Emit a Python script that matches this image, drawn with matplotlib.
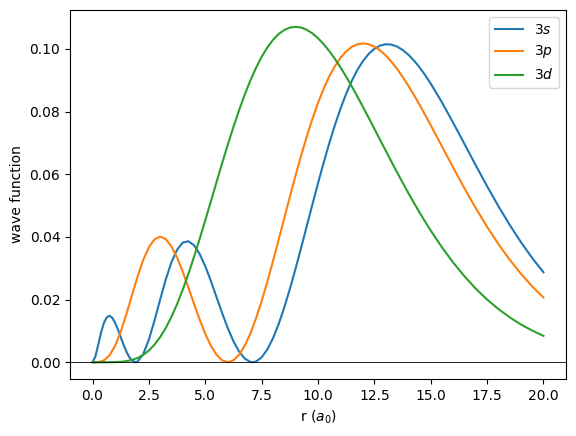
import matplotlib
matplotlib.use("Agg")
import matplotlib.pyplot as plt

# r values (Bohr radii)
r_s = [0, 0.125, 0.25, 0.375, 0.5, 0.625, 0.75, 0.875, 1.0, 1.125, 1.25, 1.375,
       1.5, 1.625, 1.75, 1.9, 2.0, 2.25, 2.5, 2.75, 3.0,
       3.25, 3.5, 3.75, 4.0, 4.25, 4.5, 4.75, 5.0, 5.25, 5.5, 5.75, 6.0, 6.25,
       6.5, 6.75, 7.0, 7.1, 7.25, 7.5, 7.75, 8.0, 8.25, 8.5, 8.75, 9.0, 9.25,
       9.5, 9.75, 10.0, 10.25, 10.5, 10.75, 11.0, 11.25, 11.5, 11.75, 12.0,
       12.25, 12.5, 12.75, 13.0, 13.25, 13.5, 13.75, 14.0, 14.25, 14.5, 14.75,
       15.0, 15.5, 16.0, 16.5, 17.0, 17.5, 18.0, 18.5, 19.0, 19.5, 20.0]
psi_3s = [0.0, 0.001794, 0.005504, 0.009382, 0.012459, 0.014302, 0.014830, 0.014184,
          0.012625, 0.010466, 0.008024, 0.005589, 0.003406, 0.001669, 0.000512,
          0.0, 0.000214, 0.002615, 0.007257, 0.013365, 0.020050,
          0.026469, 0.031926, 0.035925, 0.038180, 0.038620, 0.037341, 0.034569,
          0.030631, 0.025903, 0.020782, 0.015648, 0.010854, 0.006694,
          0.003409, 0.001172, 0.0000937, 0.0, 0.000225, 0.001560, 0.004047, 0.007598,
          0.012090, 0.017384, 0.023322, 0.029746, 0.036489,
          0.043399, 0.050324, 0.057130, 0.063695, 0.069920, 0.075709, 0.080993,
          0.085718, 0.089844, 0.093348, 0.096216,
          0.098452, 0.100065, 0.101077, 0.101511, 0.101406, 0.100797, 0.099720,
          0.098229, 0.096361, 0.094161, 0.091677,
          0.088952, 0.082927, 0.076398, 0.069630, 0.062835, 0.056196, 0.049842,
          0.043868, 0.038335, 0.033279, 0.028713]

r_pd = [0, 0.25, 0.5, 0.75, 1.0, 1.25, 1.5, 1.75, 2.0, 2.25, 2.5, 2.75, 3.0,
        3.25, 3.5, 3.75, 4.0, 4.25, 4.5, 4.75, 5.0, 5.25, 5.5, 5.75, 6.0, 6.25,
        6.5, 6.75, 7.0, 7.25, 7.5, 7.75, 8.0, 8.25, 8.5, 8.75, 9.0, 9.25,
        9.5, 9.75, 10.0, 10.25, 10.5, 10.75, 11.0, 11.25, 11.5, 11.75, 12.0,
        12.25, 12.5, 12.75, 13.0, 13.25, 13.5, 13.75, 14.0, 14.25, 14.5, 14.75,
        15.0, 15.5, 16.0, 16.5, 17.0, 17.5, 18.0, 18.5, 19.0, 19.5, 20.0]
psi_3p = [0.0, 0.0000444, 0.000551, 0.002150, 0.005217, 0.009730, 0.015329, 0.021442,
          0.027428, 0.032685, 0.036735, 0.039255, 0.040101,
          0.039286, 0.036965, 0.033400, 0.028917, 0.023884, 0.018670, 0.013625,
          0.009062, 0.005245, 0.002377, 0.000601, 0.0, 0.000601,
          0.002380, 0.005272, 0.009177, 0.013966, 0.019496, 0.025611, 0.032150,
          0.038954, 0.045872, 0.052760, 0.059492, 0.065944,
          0.072028, 0.077652, 0.082759, 0.087292, 0.091226, 0.094532, 0.097205,
          0.099248, 0.100676, 0.101511, 0.101781,
          0.101523, 0.100774, 0.099576, 0.097966, 0.096000, 0.093715, 0.091150,
          0.088363, 0.085382, 0.082247, 0.078997,
          0.075667, 0.068875, 0.062088, 0.055473, 0.049155, 0.043229, 0.037750,
          0.032750, 0.028238, 0.024209, 0.020643]
psi_3d = [0.0, 0.0, 0.0000009, 0.0000088, 0.0000417, 0.000135, 0.000341, 0.000727,
          0.001371, 0.002353, 0.003749, 0.005621, 0.008020,
          0.010974, 0.014491, 0.018556, 0.023134, 0.028174, 0.033607, 0.039349,
          0.045312, 0.051398, 0.057516, 0.063569, 0.069466, 0.075121,
          0.080461, 0.085417, 0.089934, 0.093967, 0.097484, 0.10046, 0.10288,
          0.10475, 0.10606, 0.10683, 0.10709, 0.10684,
          0.10613, 0.10499, 0.10345, 0.10155, 0.09934, 0.09684, 0.09410,
          0.09115, 0.08803, 0.08478, 0.08143,
          0.07800, 0.07454, 0.07106, 0.06758, 0.06413, 0.06073, 0.05739,
          0.05412, 0.05095, 0.04787, 0.04490,
          0.04204, 0.03667, 0.03179, 0.02740, 0.02348, 0.02002, 0.01699,
          0.01435, 0.01206, 0.01010, 0.008426]

labels = ["$3s$", "$3p$", "$3d$"]

fig = plt.figure(figsize=(5.76, 4.36), dpi=100)
ax = fig.add_axes([70 / 576, 1 - 379 / 436, 496 / 576, 369 / 436])
ax.plot(r_s, psi_3s, label=labels[0])
ax.plot(r_pd, psi_3p, label=labels[1])
ax.plot(r_pd, psi_3d, label=labels[2])
ax.axhline(0, color="k", lw=0.6)
ax.set_xlabel("r ($a_0$)")
ax.set_ylabel("wave function")
ax.legend(loc="upper right")
fig.savefig("out.png", dpi=100)
